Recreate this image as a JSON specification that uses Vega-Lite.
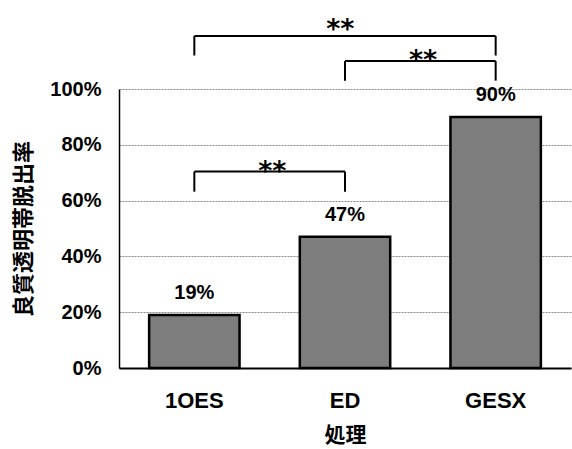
{
  "$schema": "https://vega.github.io/schema/vega-lite/v6.json",
  "width": 452,
  "height": 279,
  "autosize": "none",
  "padding": {"left": 119, "top": 89, "right": 1, "bottom": 81},
  "background": "white",
  "config": {"view": {"stroke": null}, "font": "Liberation Sans"},
  "datasets": {
    "bars": [
      {"treatment": "1OES", "rate": 19, "label": "19%"},
      {"treatment": "ED", "rate": 47, "label": "47%"},
      {"treatment": "GESX", "rate": 90, "label": "90%"}
    ],
    "brackets": [
      {"from": "1OES", "to": "GESX", "top": 119, "bottom": 112, "starY": 118.2, "star": "**", "span": "wide"},
      {"from": "ED", "to": "GESX", "top": 110, "bottom": 103, "starY": 107.0, "star": "**", "span": "adjacent"},
      {"from": "1OES", "to": "ED", "top": 70.4, "bottom": 63.2, "starY": 67.3, "star": "**", "span": "adjacent"}
    ]
  },
  "layer": [
    {
      "data": {"name": "bars"},
      "mark": {"type": "bar", "fill": "#7d7d7d", "stroke": "black", "strokeWidth": 2.5},
      "encoding": {
        "x": {
          "field": "treatment", "type": "nominal",
          "scale": {"domain": ["1OES", "ED", "GESX"], "paddingInner": 0.4, "paddingOuter": 0.2},
          "axis": {
            "title": "処理", "titleFont": "Noto Sans CJK JP", "titleFontSize": 21, "titleFontWeight": "bold",
            "titlePadding": 13, "labelAngle": 0, "labelFontSize": 22, "labelFontWeight": "bold",
            "labelPadding": 22, "ticks": false, "domainColor": "black", "domainWidth": 2, "labelColor": "black", "titleColor": "black"
          }
        },
        "y": {
          "field": "rate", "type": "quantitative",
          "scale": {"domain": [0, 100], "nice": false},
          "axis": {
            "title": "良質透明帯脱出率", "titleFont": "Noto Sans CJK JP", "titleFontSize": 22, "titleFontWeight": "bold",
            "titlePadding": 14, "values": [0, 20, 40, 60, 80, 100], "labelExpr": "datum.value + '%'",
            "labelFontSize": 20, "labelFontWeight": "bold", "labelPadding": 18, "ticks": false, "domainColor": "black", "domainWidth": 1.5,
            "gridColor": "#888888", "gridDash": [2, 1], "gridWidth": 1, "labelColor": "black", "titleColor": "black"
          }
        }
      }
    },
    {
      "data": {"name": "bars"},
      "mark": {"type": "text", "dy": -16, "baseline": "alphabetic", "fontSize": 20, "fontWeight": "bold", "color": "black"},
      "encoding": {
        "x": {"field": "treatment", "type": "nominal"},
        "y": {"field": "rate", "type": "quantitative"},
        "text": {"field": "label"}
      }
    },
    {
      "data": {"name": "brackets"},
      "mark": {"type": "rule", "color": "black", "strokeWidth": 2},
      "encoding": {
        "x": {"field": "from", "type": "nominal"},
        "x2": {"field": "to"},
        "y": {"field": "top", "type": "quantitative"}
      }
    },
    {
      "data": {"name": "brackets"},
      "mark": {"type": "rule", "color": "black", "strokeWidth": 2},
      "encoding": {
        "x": {"field": "from", "type": "nominal"},
        "y": {"field": "top", "type": "quantitative"},
        "y2": {"field": "bottom"}
      }
    },
    {
      "data": {"name": "brackets"},
      "mark": {"type": "rule", "color": "black", "strokeWidth": 2},
      "encoding": {
        "x": {"field": "to", "type": "nominal"},
        "y": {"field": "top", "type": "quantitative"},
        "y2": {"field": "bottom"}
      }
    },
    {
      "data": {"name": "brackets"},
      "transform": [{"filter": "datum.span === 'adjacent'"}],
      "mark": {"type": "text", "dx": 78, "baseline": "alphabetic", "font": "DejaVu Sans", "fontSize": 27, "fontWeight": "bold", "color": "black"},
      "encoding": {
        "x": {"field": "from", "type": "nominal"},
        "y": {"field": "starY", "type": "quantitative"},
        "text": {"field": "star"}
      }
    },
    {
      "data": {"name": "brackets"},
      "transform": [{"filter": "datum.span === 'wide'"}],
      "mark": {"type": "text", "dx": 146, "baseline": "alphabetic", "font": "DejaVu Sans", "fontSize": 27, "fontWeight": "bold", "color": "black"},
      "encoding": {
        "x": {"field": "from", "type": "nominal"},
        "y": {"field": "starY", "type": "quantitative"},
        "text": {"field": "star"}
      }
    }
  ]
}
